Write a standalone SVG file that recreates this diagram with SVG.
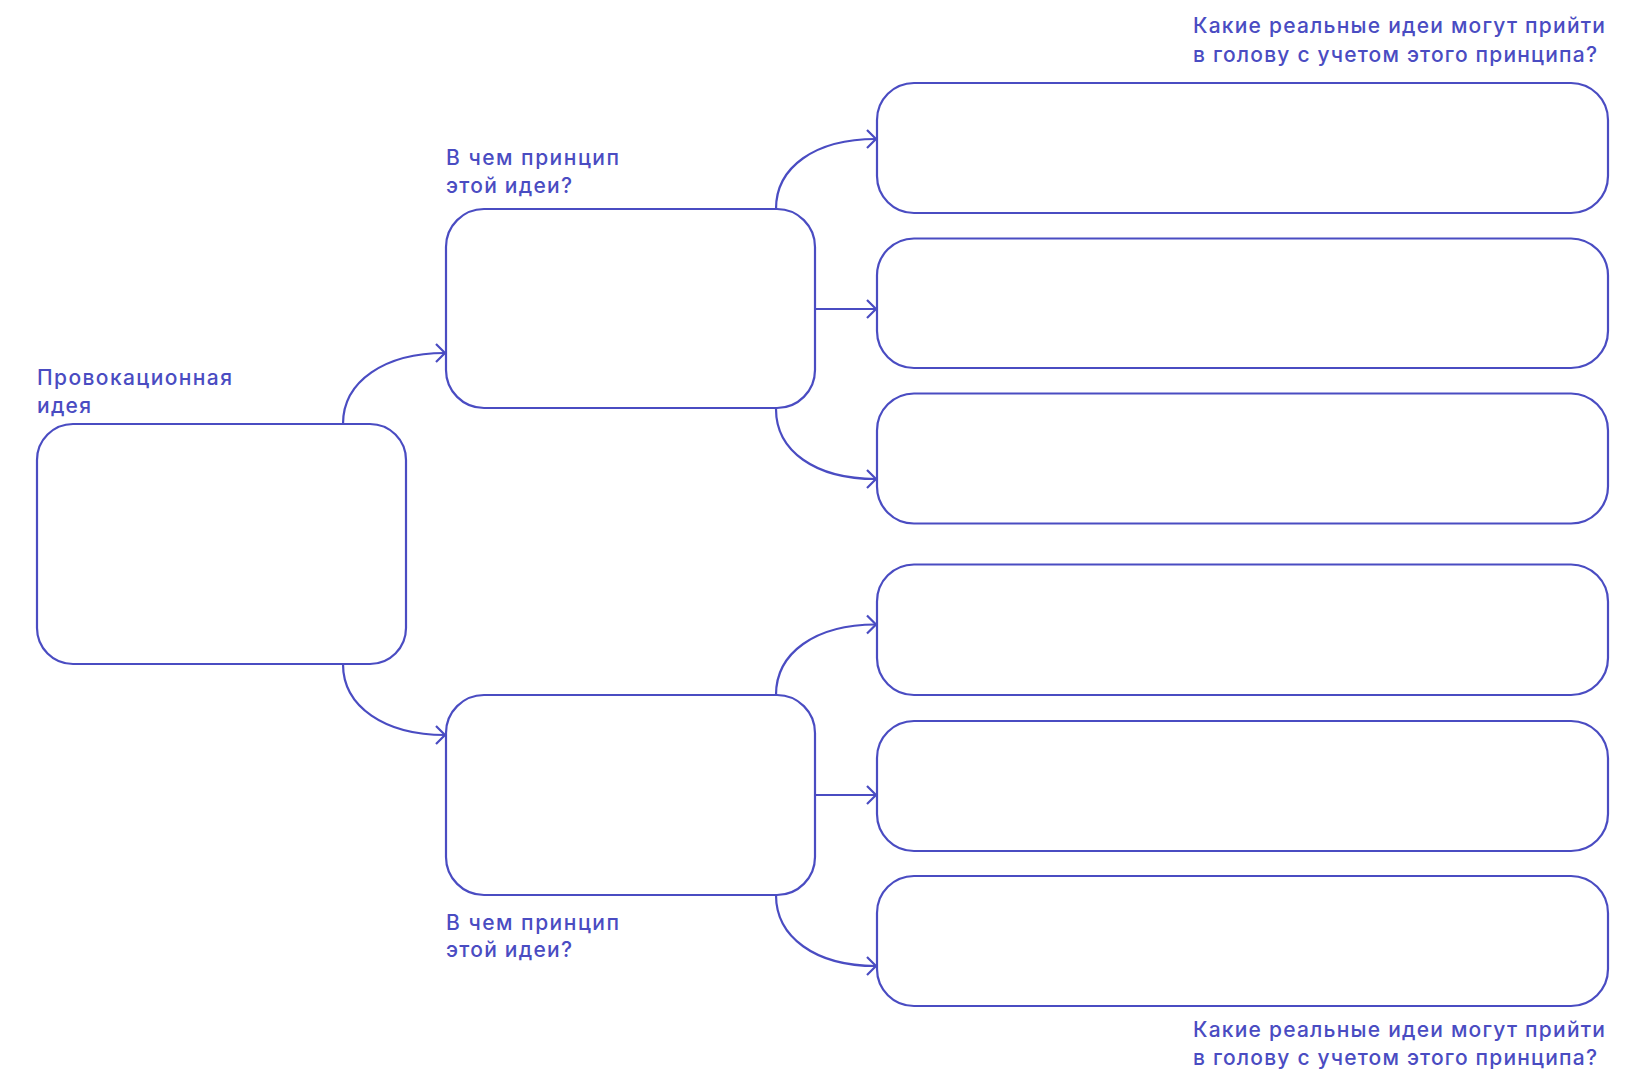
<svg xmlns="http://www.w3.org/2000/svg" width="1635" height="1078" viewBox="0 0 1635 1078">
<style>
.box{fill:none;stroke:#4a4cc2;stroke-width:2.2}
.con{fill:none;stroke:#4a4cc2;stroke-width:2.2;marker-end:url(#arr)}
.lbl{font-family:Inter,"Noto Sans",sans-serif;font-size:21px;font-weight:500;fill:#4a4cc2}
</style>
<defs>
<marker id="arr" markerUnits="userSpaceOnUse" markerWidth="24" markerHeight="24" viewBox="-12 -12 24 24" refX="0" refY="0" orient="auto" overflow="visible">
<path d="M-9,-9 L0,0 L-9,9" fill="none" stroke="#4a4cc2" stroke-width="2.2"/>
</marker>
</defs>
<rect width="1635" height="1078" fill="#fff"/>
<g id="connectors">
<path class="con" d="M343,424 C343,381 385,353 445,353"/>
<path class="con" d="M343,664 C343,707 385,735 445,735"/>
<path class="con" d="M776,209 C776,167 815,139 876,139"/>
<path class="con" d="M815,309 L876,309"/>
<path class="con" d="M776,409 C776,451 815,479 876,479"/>
<path class="con" d="M776,695 C776,653 815,624.5 876,624.5"/>
<path class="con" d="M815,795 L876,795"/>
<path class="con" d="M776,895 C776,937 815,966 876,966"/>
</g>
<g id="n-provocative">
<rect class="box" x="37" y="424" width="369" height="240" rx="36"/>
<text class="lbl" x="37" y="385" textLength="195" lengthAdjust="spacing">Провокационная</text>
<text class="lbl" x="37" y="413" textLength="54" lengthAdjust="spacing">идея</text>
</g>
<g id="n-principle-1">
<rect class="box" x="446" y="209" width="369" height="199" rx="38"/>
<text class="lbl" x="446" y="165" textLength="173" lengthAdjust="spacing">В чем принцип</text>
<text class="lbl" x="446" y="193" textLength="126" lengthAdjust="spacing">этой идеи?</text>
</g>
<g id="n-principle-2">
<rect class="box" x="446" y="695" width="369" height="200" rx="38"/>
<text class="lbl" x="446" y="930" textLength="173" lengthAdjust="spacing">В чем принцип</text>
<text class="lbl" x="446" y="957" textLength="126" lengthAdjust="spacing">этой идеи?</text>
</g>
<g id="n-ideas-label-top">
<text class="lbl" x="1193" y="33" textLength="412" lengthAdjust="spacing">Какие реальные идеи могут прийти</text>
<text class="lbl" x="1193" y="62" textLength="404" lengthAdjust="spacing">в голову с учетом этого принципа?</text>
</g>
<g id="n-idea-1"><rect class="box" x="877" y="83" width="731" height="130" rx="37"/></g>
<g id="n-idea-2"><rect class="box" x="877" y="238.5" width="731" height="129.5" rx="37"/></g>
<g id="n-idea-3"><rect class="box" x="877" y="393.5" width="731" height="130" rx="37"/></g>
<g id="n-idea-4"><rect class="box" x="877" y="564.5" width="731" height="130.5" rx="37"/></g>
<g id="n-idea-5"><rect class="box" x="877" y="721" width="731" height="130" rx="37"/></g>
<g id="n-idea-6"><rect class="box" x="877" y="876" width="731" height="130" rx="37"/></g>
<g id="n-ideas-label-bottom">
<text class="lbl" x="1193" y="1037" textLength="412" lengthAdjust="spacing">Какие реальные идеи могут прийти</text>
<text class="lbl" x="1193" y="1065" textLength="404" lengthAdjust="spacing">в голову с учетом этого принципа?</text>
</g>
</svg>
